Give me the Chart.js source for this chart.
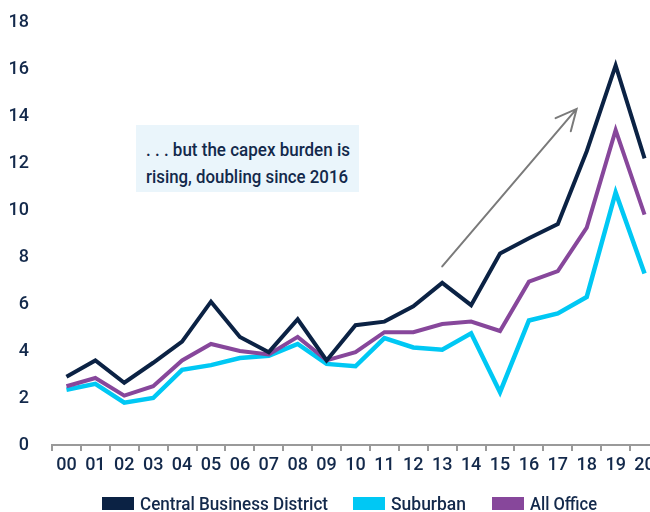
<!DOCTYPE html>
<html>
<head>
<meta charset="utf-8">
<script src="https://cdn.jsdelivr.net/npm/chart.js@4/dist/chart.umd.min.js"></script>
<style>
  html, body { margin: 0; padding: 0; background: #fff; overflow: hidden; width: 650px; height: 512px; }
  #wrap { position: relative; width: 650px; height: 512px; overflow: hidden; }
  #c { position: absolute; left: 0; top: 0; }
  #note {
    position: absolute; left: 136px; top: 125px; width: 223px; height: 67px;
    background: #eaf5fb;
  }
  .txt {
    position: absolute; white-space: nowrap; color: #13294b;
    font-family: Roboto, "Liberation Sans", sans-serif; font-weight: 500;
    transform-origin: 0 50%;
  }
  .sw { position: absolute; width: 32px; height: 13px; }
</style>
</head>
<body>
<div id="wrap">
  <canvas id="c" width="662" height="512"></canvas>
  <div id="note"></div>
</div>
<script>
const categories = ['00','01','02','03','04','05','06','07','08','09','10','11','12','13','14','15','16','17','18','19','20'];
const cbd      = [2.9, 3.6, 2.65, 3.5, 4.4, 6.1, 4.6, 3.95, 5.35, 3.6, 5.1, 5.25, 5.9, 6.9, 5.95, 8.15, 8.8, 9.4, 12.5, 16.15, 12.2];
const suburban = [2.35, 2.6, 1.8, 2.0, 3.2, 3.4, 3.7, 3.8, 4.3, 3.45, 3.35, 4.55, 4.15, 4.05, 4.75, 2.25, 5.3, 5.6, 6.3, 10.75, 7.3];
const allOffice= [2.5, 2.85, 2.1, 2.5, 3.6, 4.3, 4.0, 3.85, 4.6, 3.6, 3.95, 4.8, 4.8, 5.15, 5.25, 4.85, 6.95, 7.4, 9.25, 13.4, 9.8];
const seriesNames = ['Central Business District', 'Suburban', 'All Office'];
const seriesColors = ['#0b2244', '#00c8f4', '#87479b'];
const yTicks = [0, 2, 4, 6, 8, 10, 12, 14, 16, 18];
const noteLines = ['. . . but the capex burden is', 'rising, doubling since 2016'];
// arrow annotation in data space: [category index, value]
const arrowFrom = [13.0, 7.6];
const arrowTo = [17.65, 14.3];

const FONT = 'Roboto, "Liberation Sans", sans-serif';

const arrowPlugin = {
  id: 'arrowPlugin',
  afterDatasetsDraw(chart) {
    const {ctx, scales: {x, y}} = chart;
    const x0 = x.getPixelForValue(arrowFrom[0]), y0 = y.getPixelForValue(arrowFrom[1]);
    const x1 = x.getPixelForValue(arrowTo[0]), y1 = y.getPixelForValue(arrowTo[1]);
    const ang = Math.atan2(y1 - y0, x1 - x0);
    const hl = 23, ha = 0.45;
    ctx.save();
    ctx.strokeStyle = '#7a7a7a';
    ctx.lineWidth = 2;
    ctx.lineCap = 'round';
    ctx.beginPath();
    ctx.moveTo(x0, y0); ctx.lineTo(x1, y1);
    ctx.moveTo(x1 - hl * Math.cos(ang - ha), y1 - hl * Math.sin(ang - ha));
    ctx.lineTo(x1, y1);
    ctx.lineTo(x1 - hl * Math.cos(ang + ha), y1 - hl * Math.sin(ang + ha));
    ctx.stroke();
    ctx.restore();
  }
};

const data = [cbd, suburban, allOffice];
const chart = new Chart(document.getElementById('c'), {
  type: 'line',
  data: {
    labels: categories,
    datasets: data.map((d, i) => ({
      label: seriesNames[i],
      data: d,
      borderColor: seriesColors[i],
      backgroundColor: seriesColors[i],
      borderWidth: i === 1 ? 4.5 : 4,
      pointRadius: 0,
      tension: 0,
      order: i === 0 ? 0 : (i === 2 ? 1 : 2)
    }))
  },
  options: {
    responsive: false,
    animation: false,
    layout: { padding: { top: 22, right: 3, left: 0, bottom: 0 } },
    plugins: { legend: { display: false }, tooltip: { enabled: false } },
    scales: {
      x: {
        offset: true,
        grid: { display: true, offset: true, drawOnChartArea: false, drawTicks: true, tickLength: 6, color: '#9a9a9a', lineWidth: 2 },
        border: { display: true, color: '#9a9a9a', width: 2 },
        ticks: { color: '#13294b', font: { family: FONT, size: 18, weight: '500' }, padding: 4, maxRotation: 0, autoSkip: false },
        afterFit(s) { s.height = 67; }
      },
      y: {
        min: 0, max: 18,
        afterBuildTicks(s) { s.ticks = yTicks.map(v => ({ value: v })); },
        grid: { display: true, drawOnChartArea: false, drawTicks: true, tickLength: 21, color: 'rgba(0,0,0,0)' },
        border: { display: false },
        ticks: { color: '#13294b', font: { family: FONT, size: 18, weight: '500' }, padding: 2 },
        afterFit(s) { s.width = 52; }
      }
    }
  },
  plugins: [arrowPlugin]
});

// text helpers: place text condensed to a target width
const wrap = document.getElementById('wrap');
const mctx = document.createElement('canvas').getContext('2d');
function placeText(str, left, centerY, size, targetW) {
  const el = document.createElement('div');
  el.className = 'txt';
  el.textContent = str;
  el.style.fontSize = size + 'px';
  el.style.lineHeight = size + 'px';
  el.style.left = left + 'px';
  el.style.top = (centerY - size / 2) + 'px';
  mctx.font = '500 ' + size + 'px ' + FONT;
  const w = mctx.measureText(str).width;
  el.style.transform = 'scaleX(' + (targetW / w) + ')';
  wrap.appendChild(el);
}
// annotation text
placeText(noteLines[0], 146, 150, 18, 204);
placeText(noteLines[1], 146, 177, 18, 202);

// legend
const legendSwatchX = [102, 353, 492];
const legendTextW = [188, 75, 67];
seriesNames.forEach((n, i) => {
  const sw = document.createElement('div'); sw.className = 'sw';
  sw.style.left = legendSwatchX[i] + 'px'; sw.style.top = '497px';
  sw.style.background = seriesColors[i];
  wrap.appendChild(sw);
  placeText(n, legendSwatchX[i] + 38, 503, 19, legendTextW[i]);
});
</script>
</body>
</html>
